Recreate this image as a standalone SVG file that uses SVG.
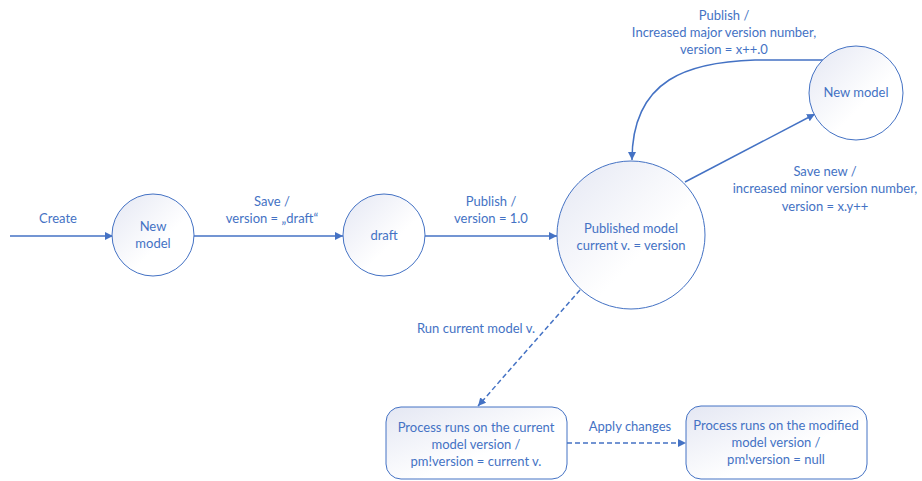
<svg xmlns="http://www.w3.org/2000/svg" width="922" height="481" viewBox="0 0 922 481">
  <defs>
    <linearGradient id="nodeFill" x1="0" y1="0" x2="1" y2="1">
      <stop offset="0" stop-color="#e4e7f3"/>
      <stop offset="0.6" stop-color="#ffffff"/>
    </linearGradient>
    <marker id="arrow" viewBox="0 0 10 10" refX="10" refY="5" markerWidth="8" markerHeight="8" markerUnits="userSpaceOnUse" orient="auto">
      <path d="M0,0 L10,5 L0,10 z" fill="#4472c4"/>
    </marker>
  </defs>
  <style>
    .node { fill: url(#nodeFill); stroke: #4472c4; stroke-width: 1; }
    .edge { fill: none; stroke: #4472c4; stroke-width: 1.5; marker-end: url(#arrow); }
    .dash { stroke-dasharray: 5 3; }
    text { font-family: Lato, "Open Sans", "Liberation Sans", sans-serif; font-size: 13px; fill: #4472c4; text-anchor: middle; }
  </style>
  <rect width="922" height="481" fill="#ffffff"/>

  <!-- transitions -->
  <g id="connectors">
    <path class="edge" d="M10,236 L113,236"/>
    <path class="edge" d="M194,236 L343,236"/>
    <path class="edge" d="M425,236 L557,236"/>
    <path class="edge" d="M823,60 L755,60 C690,62 632,78 632,160"/>
    <path class="edge" d="M685,182 L815,114"/>
    <path class="edge dash" d="M580,290 L478,406"/>
    <path class="edge dash" d="M567,443 L686,443"/>
    <text x="58" y="223">Create</text>
    <text x="272" y="206">Save /</text>
    <text x="272" y="223">version = „draft“</text>
    <text x="491" y="206">Publish /</text>
    <text x="491" y="223">version = 1.0</text>
    <text x="724" y="20">Publish /</text>
    <text x="724" y="37">Increased major version number,</text>
    <text x="724" y="54">version = x++.0</text>
    <text x="825" y="176">Save new /</text>
    <text x="825" y="193">increased minor version number,</text>
    <text x="825" y="211">version = x.y++</text>
    <text x="476" y="333">Run current model v.</text>
    <text x="630" y="431">Apply changes</text>
  </g>

  <g id="new-model">
    <circle class="node" cx="153" cy="235" r="41"/>
    <text x="153" y="231">New</text>
    <text x="153" y="248">model</text>
  </g>

  <g id="draft">
    <circle class="node" cx="384" cy="235" r="41"/>
    <text x="384" y="240">draft</text>
  </g>

  <g id="published-model">
    <circle class="node" cx="631" cy="235" r="74"/>
    <text x="631" y="233">Published model</text>
    <text x="631" y="250">current v. = version</text>
  </g>

  <g id="new-model-version">
    <circle class="node" cx="856" cy="93" r="47"/>
    <text x="856" y="97">New model</text>
  </g>

  <g id="process-current">
    <rect class="node" x="386" y="407" width="181" height="72" rx="15"/>
    <text x="476" y="432">Process runs on the current</text>
    <text x="476" y="449">model version /</text>
    <text x="476" y="466">pm!version = current v.</text>
  </g>

  <g id="process-modified">
    <rect class="node" x="686" y="406" width="181" height="73" rx="15"/>
    <text x="776" y="430">Process runs on the modified</text>
    <text x="776" y="447">model version /</text>
    <text x="776" y="464">pm!version = null</text>
  </g>
</svg>
